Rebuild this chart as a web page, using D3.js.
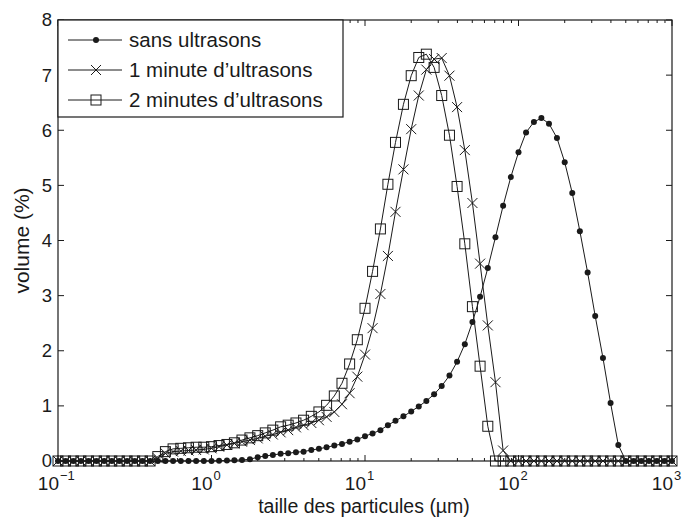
<!DOCTYPE html>
<html>
<head>
<meta charset="utf-8">
<script src="https://cdn.jsdelivr.net/npm/d3@7"></script>
<style>
  body { margin: 0; background: #fff; }
  svg { display: block; font-family: "Liberation Sans", Arial, Helvetica, sans-serif; }
</style>
</head>
<body>
<div id="chart"></div>
<script>
// Particle size bins (µm), 20 per decade
var sizes = [
  0.1, 0.112, 0.126, 0.141, 0.158, 0.178, 0.2, 0.224, 0.251, 0.282,
  0.316, 0.355, 0.398, 0.447, 0.501, 0.562, 0.631, 0.708, 0.794, 0.891,
  1, 1.12, 1.26, 1.41, 1.58, 1.78, 2, 2.24, 2.51, 2.82,
  3.16, 3.55, 3.98, 4.47, 5.01, 5.62, 6.31, 7.08, 7.94, 8.91,
  10, 11.2, 12.6, 14.1, 15.8, 17.8, 20, 22.4, 25.1, 28.2,
  31.6, 35.5, 39.8, 44.7, 50.1, 56.2, 63.1, 70.8, 79.4, 89.1,
  100, 112, 126, 141, 158, 178, 200, 224, 251, 282,
  316, 355, 398, 447, 501, 562, 631, 708, 794, 891,
  1000
];

// volume (%) - sans ultrasons
var sans = [
  0, 0, 0, 0, 0, 0, 0, 0, 0, 0,
  0, 0, 0, 0, 0, 0, 0, 0, 0, 0,
  0, 0.005, 0.01, 0.015, 0.02, 0.03, 0.07, 0.09, 0.11, 0.13,
  0.14, 0.16, 0.17, 0.2, 0.22, 0.25, 0.28, 0.31, 0.35, 0.39,
  0.45, 0.5, 0.56, 0.65, 0.73, 0.81, 0.9, 0.99, 1.09, 1.21,
  1.36, 1.55, 1.8, 2.12, 2.52, 2.98, 3.5, 4.06, 4.63, 5.15,
  5.6, 5.96, 6.15, 6.22, 6.12, 5.86, 5.42, 4.86, 4.17, 3.42,
  2.63, 1.87, 1.05, 0.29, 0, 0, 0, 0, 0, 0,
  0
];

// volume (%) - 1 minute d'ultrasons
var min1 = [
  0, 0, 0, 0, 0, 0, 0, 0, 0, 0,
  0, 0, 0, 0.05, 0.14, 0.17, 0.18, 0.19, 0.2, 0.21,
  0.23, 0.26, 0.29, 0.32, 0.35, 0.38, 0.41, 0.45, 0.48, 0.52,
  0.56, 0.61, 0.65, 0.69, 0.74, 0.8, 0.89, 1.03, 1.23, 1.53,
  1.93, 2.41, 3.03, 3.72, 4.52, 5.29, 6.02, 6.63, 7.1, 7.29,
  7.31, 6.99, 6.42, 5.64, 4.68, 3.58, 2.46, 1.43, 0.19, 0,
  0, 0, 0, 0, 0, 0, 0, 0, 0, 0,
  0, 0, 0, 0, 0, 0, 0, 0, 0, 0,
  0
];

// volume (%) - 2 minutes d'ultrasons
var min2 = [
  0, 0, 0, 0, 0, 0, 0, 0, 0, 0,
  0, 0, 0, 0.08, 0.17, 0.22, 0.23, 0.24, 0.25, 0.25,
  0.26, 0.28, 0.3, 0.33, 0.38, 0.42, 0.46, 0.51, 0.56, 0.62,
  0.65, 0.69, 0.74, 0.81, 0.89, 1.01, 1.18, 1.41, 1.76, 2.2,
  2.77, 3.44, 4.21, 5.02, 5.78, 6.47, 6.99, 7.32, 7.38, 7.14,
  6.63, 5.91, 4.98, 3.94, 2.8, 1.72, 0.63, 0, 0, 0,
  0, 0, 0, 0, 0, 0, 0, 0, 0, 0,
  0, 0, 0, 0, 0, 0, 0, 0, 0, 0,
  0
];

var legendLabels = ['sans ultrasons', '1 minute d\u2019ultrasons', '2 minutes d\u2019ultrasons'];
var yTicks = [0, 1, 2, 3, 4, 5, 6, 7, 8];
var xDecades = [0.1, 1, 10, 100, 1000];
var xExponents = ['\u22121', '0', '1', '2', '3'];

var W = 685, H = 518;
var margin = {top: 20, right: 13, bottom: 57, left: 58};
var width = W - margin.left - margin.right;
var height = H - margin.top - margin.bottom;
var ink = '#1a1a1a';

var svg = d3.select('#chart').append('svg')
    .attr('width', W)
    .attr('height', H);

var g = svg.append('g')
    .attr('transform', 'translate(' + margin.left + ',' + margin.top + ')');

var x = d3.scaleLog().domain([0.1, 1000]).range([0, width]);
var y = d3.scaleLinear().domain([0, 8]).range([height, 0]);

// minor log ticks
var minor = [];
xDecades.slice(0, -1).forEach(function(d) {
    for (var k = 2; k <= 9; k++) minor.push(d * k);
});

// Axes box with inward ticks (matlab style)
function drawTicks(sel, isTop) {
    var y0 = isTop ? 0 : height;
    var dir = isTop ? 1 : -1;
    sel.selectAll(null).data(xDecades).enter().append('line')
        .attr('x1', function(d) { return x(d); }).attr('x2', function(d) { return x(d); })
        .attr('y1', y0).attr('y2', y0 + dir * 6);
    sel.selectAll(null).data(minor).enter().append('line')
        .attr('x1', function(d) { return x(d); }).attr('x2', function(d) { return x(d); })
        .attr('y1', y0).attr('y2', y0 + dir * 3);
}

var ticks = g.append('g').attr('stroke', ink).attr('stroke-width', 1);
drawTicks(ticks, false);
drawTicks(ticks, true);
ticks.selectAll(null).data(yTicks).enter().append('line')
    .attr('x1', 0).attr('x2', 6)
    .attr('y1', function(d) { return y(d); }).attr('y2', function(d) { return y(d); });
ticks.selectAll(null).data(yTicks).enter().append('line')
    .attr('x1', width).attr('x2', width - 6)
    .attr('y1', function(d) { return y(d); }).attr('y2', function(d) { return y(d); });

// Y tick labels
g.append('g').selectAll('text').data(yTicks).enter().append('text')
    .attr('x', -6)
    .attr('y', function(d) { return y(d); })
    .attr('dy', '0.35em')
    .attr('text-anchor', 'end')
    .attr('font-size', 18.5)
    .attr('fill', ink)
    .text(function(d) { return d; });

// X tick labels 10^n
var xl = g.append('g').selectAll('g').data(xDecades).enter().append('g')
    .attr('transform', function(d) { return 'translate(' + x(d) + ',' + (height + 29) + ')'; });
xl.append('text')
    .attr('x', 1)
    .attr('text-anchor', 'end')
    .attr('font-size', 19)
    .attr('fill', ink)
    .text('10');
xl.append('text')
    .attr('x', 2)
    .attr('y', -10)
    .attr('font-size', 13)
    .attr('fill', ink)
    .text(function(d, i) { return xExponents[i]; });

// Axis labels
svg.append('text')
    .attr('x', margin.left + width / 2 - 1)
    .attr('y', 513)
    .attr('text-anchor', 'middle')
    .attr('font-size', 19.5)
    .attr('fill', ink)
    .text('taille des particules (\u00b5m)');

svg.append('text')
    .attr('transform', 'translate(29,' + (margin.top + height / 2) + ') rotate(-90)')
    .attr('text-anchor', 'middle')
    .attr('font-size', 21)
    .attr('fill', ink)
    .text('volume (%)');

// Series
var series = [sans, min1, min2];
var markerType = ['dot', 'cross', 'square'];

var line = d3.line()
    .x(function(d) { return x(d[0]); })
    .y(function(d) { return y(d[1]); });

function drawMarker(sel, type) {
    if (type === 'dot') {
        sel.append('circle').attr('r', 3).attr('fill', ink).attr('stroke', 'none');
    } else if (type === 'cross') {
        sel.append('path').attr('d', 'M-5,-5L5,5M-5,5L5,-5')
            .attr('fill', 'none').attr('stroke', ink).attr('stroke-width', 1);
    } else {
        sel.append('rect').attr('x', -5).attr('y', -5).attr('width', 10).attr('height', 10)
            .attr('fill', 'none').attr('stroke', ink).attr('stroke-width', 1);
    }
}

var plot = g.append('g');
series.forEach(function(vals, s) {
    var pts = sizes.map(function(d, i) { return [d, vals[i]]; });
    plot.append('path')
        .datum(pts)
        .attr('fill', 'none')
        .attr('stroke', ink)
        .attr('stroke-width', 1)
        .attr('d', line);
    var m = plot.append('g').selectAll('g').data(pts).enter().append('g')
        .attr('transform', function(d) { return 'translate(' + x(d[0]) + ',' + y(d[1]) + ')'; });
    drawMarker(m, markerType[s]);
});

// box outline
g.append('rect')
    .attr('width', width).attr('height', height)
    .attr('fill', 'none').attr('stroke', ink).attr('stroke-width', 1.2);

// Legend
var lg = g.append('g');
lg.append('rect')
    .attr('x', 0).attr('y', 0).attr('width', 285).attr('height', 97)
    .attr('fill', '#fff').attr('stroke', ink).attr('stroke-width', 1.2);
var rows = lg.selectAll('g.row').data(legendLabels).enter().append('g')
    .attr('class', 'row')
    .attr('transform', function(d, i) { return 'translate(0,' + (20 + i * 30) + ')'; });
rows.append('line')
    .attr('x1', 10).attr('x2', 64).attr('y1', 0).attr('y2', 0)
    .attr('stroke', ink).attr('stroke-width', 1);
rows.each(function(d, i) {
    var mk = d3.select(this).append('g').attr('transform', 'translate(38,0)');
    drawMarker(mk, markerType[i]);
});
rows.append('text')
    .attr('x', 71)
    .attr('dy', '0.35em')
    .attr('font-size', 20.5)
    .attr('fill', ink)
    .text(function(d) { return d; });
</script>
</body>
</html>
